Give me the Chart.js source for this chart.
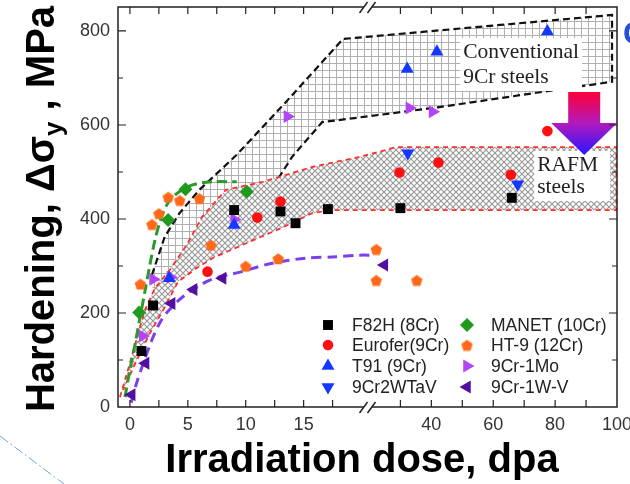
<!DOCTYPE html>
<html>
<head>
<meta charset="utf-8">
<script src="https://cdn.jsdelivr.net/npm/chart.js@4.4.1/dist/chart.umd.min.js"></script>
<style>
  html, body { margin: 0; padding: 0; background: #fff; }
</style>
</head>
<body>
<canvas id="myChart" width="630" height="484"></canvas>
<script>
// axis ticks (dose in dpa, the part after 20 dpa is compressed past the break)
const xTickDoses = [0, 5, 10, 15, 40, 60, 80, 100];
const xMinorDoses = [2.5, 7.5, 12.5, 17.5, 30, 50, 70, 90];
const yTicks = [0, 200, 400, 600, 800];
const yMinor = [100, 300, 500, 700];

// measured points
const f82hDose = [1, 2, 9, 13, 14.3, 17.1, 30, 66];
const f82hMPa = [119, 216, 419, 416, 391, 421, 423, 445];
const euroferDose = [6.7, 11, 13, 29.7, 42.3, 65.7, 77.5];
const euroferMPa = [288, 403, 437, 499, 520, 494, 587];
const t91Dose = [3.4, 9, 32.2, 41.8, 77.5];
const t91MPa = [274, 387, 719, 756, 799];
const wtavDose = [32.4, 67.9];
const wtavMPa = [540, 474];
const manetDose = [0.8, 3.3, 4.8, 10.1];
const manetMPa = [201, 398, 463, 458];
const ht9Dose = [0.9, 1.9, 2.5, 3.3, 4.3, 6, 7, 10, 12.8, 22.2, 22.2, 35.3];
const ht9MPa = [262, 389, 412, 447, 440, 444, 345, 300, 316, 336, 270, 270];
const moDose = [1.1, 2, 3.5, 9, 13.6, 32.9, 40.4];
const moMPa = [151, 272, 276, 399, 618, 636, 628];
const wvDose = [0.15, 1.35, 3.6, 5.5, 8, 24.8];
const wvMPa = [26, 93, 220, 250, 274, 302];

// band outlines (upper edge left->right, then lower edge right->left)
const convDose = [1.9, 3.0, 4.3, 6.0, 9.2, 13.4, 16.6, 18.4, 98.4, 98.4, 65.2, 42.6, 19.8, 16.6, 14.0, 11.8, 9.5, 6.0, 3.5, 2.0];
const convMPa = [281, 362, 413, 462, 536, 647, 734, 783, 834, 692, 660, 638, 616, 606, 532, 447, 400, 340, 260, 200];
const rafmDose = [-0.86, -0.17, 0.6, 1.29, 2.16, 3.45, 4.91, 6.21, 8.28, 11.47, 15.78, 19.83, 28.7, 99.8, 99.8, 17.5, 15.78, 13.1, 10.09, 7.16, 5.78, 4.14, 3.02, 1.72, 0.6, -0.6];
const rafmMPa = [21, 79, 147, 206, 253, 292, 345, 404, 462, 479, 511, 532, 553, 553, 419, 419, 413, 381, 349, 317, 296, 266, 213, 157, 100, 36];
const manetFitDose = [-0.43, 0, 0.43, 0.86, 1.29, 1.72, 2.16, 2.59, 3.19, 3.88, 5.34, 7.07, 9.22];
const manetFitMPa = [21, 79, 132, 189, 245, 302, 355, 394, 430, 451, 472, 479, 479];
const wvFitDose = [0.1, 0.6, 1.2, 1.9, 2.6, 3.3, 4.6, 6.9, 9.5, 12.3, 15.3, 17.5, 19.8, 21];
const wvFitMPa = [9, 53, 96, 143, 180, 204, 235, 270, 287, 306, 317, 319, 323, 323];

const ctx = document.getElementById('myChart').getContext('2d');
const FONT = '"Liberation Sans", Arial, sans-serif';

function toAxis(d) { return d <= 20 ? d : 26.03 + (d - 40) * 0.2672; }
function pts(dose, mpa) { return dose.map((d, i) => ({ x: toAxis(d), y: mpa[i] })); }

function makeTile(size, draw) {
  const c = document.createElement('canvas');
  c.width = c.height = size;
  const g = c.getContext('2d');
  g.fillStyle = '#fff';
  g.fillRect(0, 0, size, size);
  draw(g, size);
  return ctx.createPattern(c, 'repeat');
}
const gridFill = makeTile(7, (g, s) => {
  g.strokeStyle = '#b0b0b0'; g.lineWidth = 1;
  g.beginPath(); g.moveTo(0, 0.5); g.lineTo(s, 0.5); g.moveTo(0.5, 0); g.lineTo(0.5, s); g.stroke();
});
const diamondFill = makeTile(6, (g, s) => {
  g.strokeStyle = '#9a9a9a'; g.lineWidth = 1.2;
  g.beginPath(); g.moveTo(0, 0); g.lineTo(s, s); g.moveTo(s, 0); g.lineTo(0, s); g.stroke();
});

function pentagon(size, color) {
  const c = document.createElement('canvas');
  c.width = c.height = size;
  const g = c.getContext('2d');
  g.fillStyle = color;
  g.beginPath();
  for (let i = 0; i < 5; i++) {
    const a = -Math.PI / 2 + i * 2 * Math.PI / 5;
    g.lineTo(size / 2 + (size / 2 - 0.5) * Math.cos(a), size / 2 + 0.8 + (size / 2 - 0.5) * Math.sin(a));
  }
  g.closePath();
  g.fill();
  return c;
}
const pent = pentagon(13, '#ff6a1a');

const lineBase = { type: 'line', pointRadius: 0, fill: false, tension: 0 };
const dotBase = { type: 'scatter', borderWidth: 0, order: 0 };

// scale label overflow must not push the plot frame in
function noPad(s) { s.paddingLeft = 0; s.paddingRight = 0; s.paddingTop = 0; s.paddingBottom = 0; }

const myChart = new Chart(ctx, {
  type: 'scatter',
  data: {
    datasets: [
      { ...dotBase, label: 'F82H (8Cr)', data: pts(f82hDose, f82hMPa), pointStyle: 'rect', pointRadius: 7, backgroundColor: '#000' },
      { ...dotBase, label: 'Eurofer(9Cr)', data: pts(euroferDose, euroferMPa), pointStyle: 'circle', pointRadius: 5.3, backgroundColor: '#ff1010' },
      { ...dotBase, label: 'T91 (9Cr)', data: pts(t91Dose, t91MPa), pointStyle: 'triangle', pointRadius: 7.5, backgroundColor: '#1438ff' },
      { ...dotBase, label: '9Cr2WTaV', data: pts(wtavDose, wtavMPa), pointStyle: 'triangle', pointRotation: 180, pointRadius: 7.5, backgroundColor: '#1438ff' },
      { ...dotBase, label: 'MANET (10Cr)', data: pts(manetDose, manetMPa), pointStyle: 'rectRot', pointRadius: 7, backgroundColor: '#1f9a1f' },
      { ...dotBase, label: 'HT-9 (12Cr)', data: pts(ht9Dose, ht9MPa), pointStyle: pent, pointRadius: 6.5, backgroundColor: '#ff6a1a' },
      { ...dotBase, label: '9Cr-1Mo', data: pts(moDose, moMPa), pointStyle: 'triangle', pointRotation: 90, pointRadius: 7.5, backgroundColor: '#b144f5' },
      { ...dotBase, label: '9Cr-1W-V', data: pts(wvDose, wvMPa), pointStyle: 'triangle', pointRotation: -90, pointRadius: 7.5, backgroundColor: '#5210a0' },
      { ...lineBase, label: 'conv', data: pts(convDose, convMPa), borderColor: '#111', borderWidth: 2.2, borderDash: [7, 4], fill: 'shape', backgroundColor: gridFill, order: 6 },
      { ...lineBase, label: 'rafm', data: pts(rafmDose, rafmMPa), borderColor: '#ff2d2d', borderWidth: 1.8, borderDash: [5, 4], fill: 'shape', backgroundColor: diamondFill, order: 5 },
      { ...lineBase, label: 'manetFit', data: pts(manetFitDose, manetFitMPa), borderColor: '#2a9a2a', borderWidth: 3, borderDash: [10, 5], tension: 0.3, order: 4 },
      { ...lineBase, label: 'wvFit', data: pts(wvFitDose, wvFitMPa), borderColor: '#7b3ff0', borderWidth: 3, borderDash: [10, 6], tension: 0.3, order: 4 }
    ]
  },
  options: {
    responsive: false,
    animation: false,
    layout: { autoPadding: false, padding: { left: 0, top: 7, right: 13, bottom: 0 } },
    plugins: { legend: { display: false }, tooltip: { enabled: false } },
    scales: {
      x: {
        type: 'linear',
        min: -1.03,
        max: toAxis(100),
        afterBuildTicks: s => { s.ticks = xTickDoses.map(d => ({ value: toAxis(d) })); },
        afterFit: s => { s.height = 77; noPad(s); },
        grid: { display: false, drawTicks: false },
        border: { display: false },
        ticks: { autoSkip: false, maxRotation: 0, padding: 7, color: '#333', font: { family: FONT, size: 18 }, callback: (v, i) => xTickDoses[i] }
      },
      y: {
        min: 0,
        max: 851,
        afterBuildTicks: s => { s.ticks = yTicks.map(v => ({ value: v })); },
        afterFit: s => { s.width = 118; noPad(s); },
        grid: { display: false, drawTicks: false },
        border: { display: false },
        ticks: { padding: 8, color: '#333', font: { family: FONT, size: 18 } }
      }
    }
  },
  plugins: [{
    id: 'decorations',
    beforeDraw(chart) {
      const c = chart.ctx;
      c.save();
      c.fillStyle = '#fff';
      c.fillRect(0, 0, chart.width, chart.height);
      c.restore();
    },
    afterDatasetsDraw(chart) {
      const { ctx: c, chartArea: a, scales: { x, y } } = chart;
      const px = d => x.getPixelForValue(toAxis(d));
      c.save();

      // band labels on white boxes
      const notes = [
        { lines: ['Conventional', '9Cr steels'], dose: 50.3, mpa: [755, 702], padR: 3 },
        { lines: ['RAFM', 'steels'], dose: 74.2, mpa: [515, 468], padR: 12 }
      ];
      c.font = '21.5px "Liberation Serif", "Times New Roman", serif';
      c.textBaseline = 'middle';
      notes.forEach(n => {
        const tx = px(n.dose);
        const w = Math.max(...n.lines.map(t => c.measureText(t).width));
        const y0 = y.getPixelForValue(n.mpa[0]) - 14;
        const y1 = y.getPixelForValue(n.mpa[n.mpa.length - 1]) + 14;
        c.fillStyle = '#fff';
        c.fillRect(tx - 3, y0, w + 3 + n.padR, y1 - y0);
        c.fillStyle = '#222';
        n.lines.forEach((t, i) => c.fillText(t, tx, y.getPixelForValue(n.mpa[i])));
      });

      // gradient arrow
      const ax = px(89.4), top = y.getPixelForValue(670), neck = y.getPixelForValue(604), tip = y.getPixelForValue(536);
      const grad = c.createLinearGradient(0, top, 0, tip);
      grad.addColorStop(0, '#ff0036');
      grad.addColorStop(0.5, '#b01ac0');
      grad.addColorStop(1, '#2a14ff');
      c.fillStyle = grad;
      c.beginPath();
      c.moveTo(ax - 16, top); c.lineTo(ax + 16, top); c.lineTo(ax + 16, neck);
      c.lineTo(ax + 33, neck); c.lineTo(ax, tip); c.lineTo(ax - 33, neck); c.lineTo(ax - 16, neck);
      c.closePath();
      c.fill();

      // frame and inward ticks on all sides
      c.strokeStyle = '#222';
      c.lineWidth = 1.5;
      c.strokeRect(a.left, a.top, a.width, a.height);
      c.lineWidth = 1.2;
      c.beginPath();
      xTickDoses.concat(xMinorDoses).forEach(d => {
        const p = px(d);
        if (p > a.right - 2) return;
        c.moveTo(p, a.bottom); c.lineTo(p, a.bottom - 7);
        c.moveTo(p, a.top); c.lineTo(p, a.top + 7);
      });
      yTicks.concat(yMinor).forEach(v => {
        const p = y.getPixelForValue(v);
        const len = yTicks.includes(v) ? 8 : 5;
        if (v === 0) return;
        c.moveTo(a.left, p); c.lineTo(a.left + len, p);
        c.moveTo(a.right, p); c.lineTo(a.right - len, p);
      });
      c.stroke();

      // axis break marks
      const bx = (px(20) + px(20.01)) / 2 + 2;
      [a.top, a.bottom].forEach(ay => {
        c.fillStyle = '#fff';
        c.beginPath();
        c.moveTo(bx - 8, ay + 6); c.lineTo(bx, ay - 5); c.lineTo(bx + 8, ay - 5); c.lineTo(bx, ay + 6);
        c.closePath();
        c.fill();
        c.strokeStyle = '#222';
        c.lineWidth = 1.5;
        c.beginPath();
        c.moveTo(bx - 8, ay + 6); c.lineTo(bx, ay - 5);
        c.moveTo(bx, ay + 6); c.lineTo(bx + 8, ay - 5);
        c.stroke();
      });

      // legend, two columns
      const dots = chart.data.datasets.slice(0, 8);
      c.font = '17.5px ' + FONT;
      c.textBaseline = 'middle';
      dots.forEach((ds, i) => {
        const col = Math.floor(i / 4), row = i % 4;
        const mx = a.left + (col ? 349 : 210);
        const my = a.bottom + [-82, -62, -41, -20][row];
        c.fillStyle = ds.backgroundColor;
        if (ds.pointStyle instanceof HTMLCanvasElement) {
          c.drawImage(ds.pointStyle, mx - ds.pointStyle.width / 2, my - ds.pointStyle.height / 2);
        } else if (Chart.helpers && Chart.helpers.drawPoint) {
          Chart.helpers.drawPoint(c, { pointStyle: ds.pointStyle, rotation: ds.pointRotation || 0, radius: ds.pointRadius, borderWidth: 0 }, mx, my);
        }
        c.fillStyle = '#222';
        c.fillText(ds.label, mx + 24, my + 1);
      });
      c.restore();
    },
    afterDraw(chart) {
      const c = chart.ctx;
      c.save();
      c.fillStyle = '#000';
      // x title
      c.font = 'bold 40px ' + FONT;
      c.textAlign = 'center';
      c.textBaseline = 'alphabetic';
      c.fillText('Irradiation dose, dpa', 362, 472);
      // y title with subscript
      c.translate(54, 209);
      c.rotate(-Math.PI / 2);
      c.textAlign = 'left';
      const p1 = 'Hardening, \u0394\u03c3', sub = 'y', p3 = ' , MPa';
      c.font = 'bold 40px ' + FONT;
      const w1 = c.measureText(p1).width, w3 = c.measureText(p3).width;
      c.font = 'bold 26px ' + FONT;
      const w2 = c.measureText(sub).width;
      let tx = -(w1 + w2 + w3) / 2;
      c.font = 'bold 40px ' + FONT;
      c.fillText(p1, tx, 0); tx += w1;
      c.font = 'bold 26px ' + FONT;
      c.fillText(sub, tx, 8); tx += w2;
      c.font = 'bold 40px ' + FONT;
      c.fillText(p3, tx, 0);
      c.restore();

      // cut-off panel letter and stray guide line from the source figure
      c.save();
      c.fillStyle = '#2250d8';
      c.font = 'bold 32px ' + FONT;
      c.textBaseline = 'middle';
      c.fillText('C', 623, 35);
      c.strokeStyle = '#6fa8dc';
      c.lineWidth = 1;
      c.setLineDash([10, 3, 2, 3]);
      c.beginPath();
      c.moveTo(0, 436); c.lineTo(64, 484);
      c.stroke();
      c.restore();
    }
  }]
});
</script>
</body>
</html>
